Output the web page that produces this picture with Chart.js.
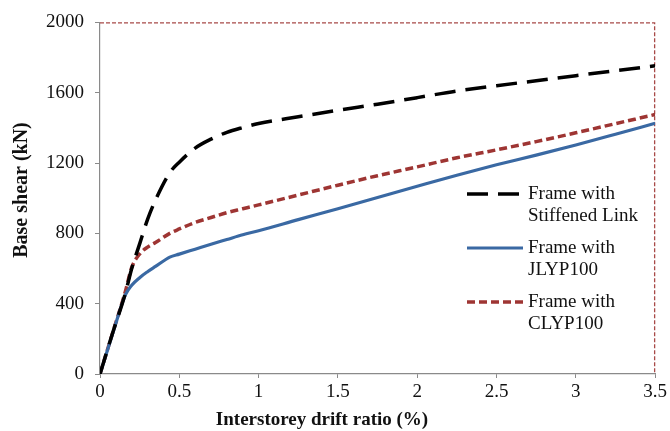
<!DOCTYPE html>
<html>
<head>
<meta charset="utf-8">
<script src="https://cdn.jsdelivr.net/npm/chart.js@4/dist/chart.umd.min.js"></script>
<style>
  html, body { margin: 0; padding: 0; background: #fff; }
  #wrap { width: 670px; height: 431px; position: relative; }
</style>
</head>
<body>
<div id="wrap"><canvas id="c" width="670" height="431"></canvas></div>
<script>
// Interstorey drift ratio (%) sample points shared by all three curves
const drift = [0, 0.08, 0.16, 0.2, 0.25, 0.3, 0.35, 0.44, 0.5, 0.6, 0.7, 0.8, 0.9, 1.0,
               1.25, 1.5, 1.75, 2.0, 2.25, 2.5, 2.75, 3.0, 3.25, 3.5];

// Base shear (kN) for each frame
const stiffenedLink = [0, 235, 460, 600, 740, 880, 990, 1145, 1205, 1285, 1336, 1375, 1402, 1425,
                       1463, 1500, 1535, 1572, 1610, 1640, 1668, 1697, 1725, 1753];
const jlyp100 = [0, 230, 450, 505, 548, 582, 612, 665, 682, 710, 738, 765, 792, 815,
                 878, 940, 1004, 1068, 1131, 1190, 1245, 1303, 1364, 1426];
const clyp100 = [0, 235, 470, 606, 683, 722, 748, 800, 825, 862, 890, 918, 940, 962,
                 1018, 1074, 1128, 1178, 1230, 1275, 1322, 1372, 1424, 1476];

const seriesNames = [["Frame with", "Stiffened Link"], ["Frame with", "JLYP100"], ["Frame with", "CLYP100"]];
const xTickLabels = ["0", "0.5", "1", "1.5", "2", "2.5", "3", "3.5"];
const yTickLabels = ["0", "400", "800", "1200", "1600", "2000"];

const SERIF = '"Liberation Serif", "Times New Roman", serif';
const toPoints = ys => drift.map((x, i) => ({ x: x, y: ys[i] }));

const datasets = [
  { label: seriesNames[0].join(' '), data: toPoints(stiffenedLink), borderColor: '#000000',
    borderWidth: 3.5, borderDash: [21, 10] },
  { label: seriesNames[1].join(' '), data: toPoints(jlyp100), borderColor: '#3a69a3',
    borderWidth: 3.2, borderDash: [] },
  { label: seriesNames[2].join(' '), data: toPoints(clyp100), borderColor: '#9e3533',
    borderWidth: 3.5, borderDash: [8, 4] }
].map(d => Object.assign(d, { pointRadius: 0, fill: false, cubicInterpolationMode: 'monotone' }));

// Dashed frame on the top and right of the plot area
const frameBox = {
  id: 'frameBox',
  beforeDatasetsDraw(chart) {
    const { ctx, chartArea: a } = chart;
    ctx.save();
    ctx.strokeStyle = '#a84a48';
    ctx.lineWidth = 1.3;
    ctx.setLineDash([4, 2]);
    ctx.beginPath();
    ctx.moveTo(a.left, a.top + 0.5);
    ctx.lineTo(a.right - 0.5, a.top + 0.5);
    ctx.lineTo(a.right - 0.5, a.bottom);
    ctx.stroke();
    ctx.restore();
  }
};

// Axis titles and the in-plot legend
const annotations = {
  id: 'annotations',
  afterDraw(chart) {
    const { ctx } = chart;
    ctx.save();
    ctx.fillStyle = '#111';
    ctx.font = 'bold 19px ' + SERIF;
    ctx.textAlign = 'center';
    ctx.textBaseline = 'middle';
    ctx.fillText('Interstorey drift ratio (%)', 322, 420);
    ctx.font = 'bold 20px ' + SERIF;
    ctx.translate(22, 190);
    ctx.rotate(-Math.PI / 2);
    ctx.fillText('Base shear (kN)', 0, 0);
    ctx.restore();

    const rows = [194, 248, 302];
    ctx.save();
    chart.data.datasets.forEach((ds, i) => {
      const y = rows[i];
      ctx.strokeStyle = ds.borderColor;
      ctx.lineWidth = ds.borderWidth;
      ctx.setLineDash(ds.borderDash);
      ctx.beginPath();
      ctx.moveTo(467, y);
      ctx.lineTo(523, y);
      ctx.stroke();
      ctx.setLineDash([]);
      ctx.fillStyle = '#111';
      ctx.font = '19px ' + SERIF;
      ctx.textAlign = 'left';
      ctx.textBaseline = 'middle';
      ctx.fillText(seriesNames[i][0], 528, y);
      ctx.fillText(seriesNames[i][1], 528, y + 22);
    });
    ctx.restore();
  }
};

new Chart(document.getElementById('c'), {
  type: 'line',
  data: { datasets },
  options: {
    responsive: false,
    animation: false,
    layout: { padding: { top: 20, right: 13, left: 0, bottom: 0 } },
    plugins: { legend: { display: false }, tooltip: { enabled: false } },
    scales: {
      x: {
        type: 'linear', min: 0, max: 3.5,
        afterFit(s) { s.height = 57; },
        afterBuildTicks(s) { s.ticks = xTickLabels.map(t => ({ value: parseFloat(t) })); },
        ticks: {
          callback: (v) => xTickLabels.find(t => parseFloat(t) === v) || '',
          font: { family: SERIF, size: 19 }, color: '#111', padding: 3, maxRotation: 0
        },
        grid: { drawOnChartArea: false, drawTicks: true, tickLength: 4, color: '#8a8a8a' },
        border: { display: true, color: '#8a8a8a', width: 1.2 }
      },
      y: {
        min: 0, max: 2000,
        afterFit(s) { s.width = 100; },
        afterBuildTicks(s) { s.ticks = yTickLabels.map(t => ({ value: parseFloat(t) })); },
        ticks: {
          callback: (v) => yTickLabels.find(t => parseFloat(t) === v) || '',
          font: { family: SERIF, size: 19 }, color: '#111', padding: 11
        },
        grid: { drawOnChartArea: false, drawTicks: true, tickLength: 5, color: '#8a8a8a' },
        border: { display: true, color: '#8a8a8a', width: 1.2 }
      }
    }
  },
  plugins: [frameBox, annotations]
});
</script>
</body>
</html>
